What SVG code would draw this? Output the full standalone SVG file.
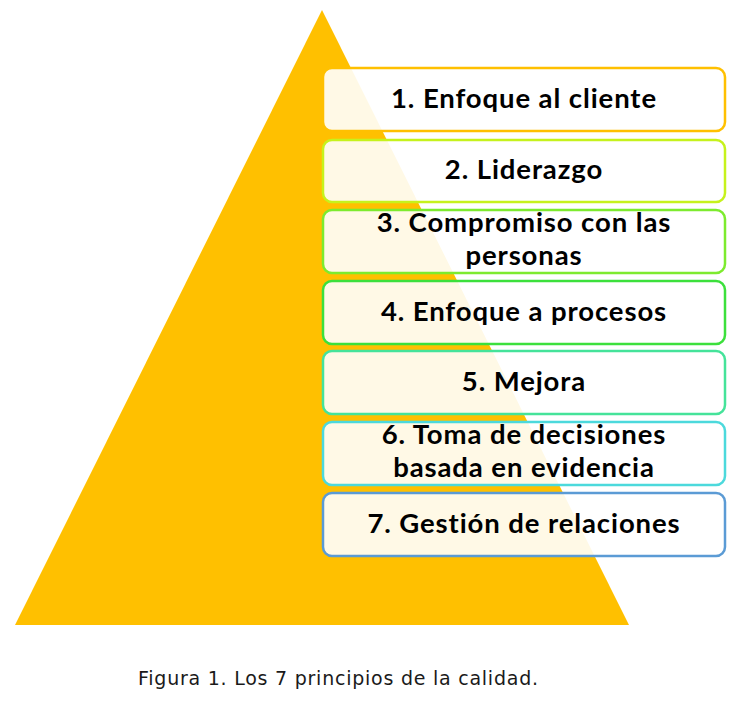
<svg xmlns="http://www.w3.org/2000/svg" width="740" height="705" viewBox="0 0 740 705">
<style>
.box{fill:#ffffff;fill-opacity:0.9;stroke-width:2.5}
.t{font-family:Lato,"Noto Sans",sans-serif;font-weight:bold;font-size:27.5px;letter-spacing:0.9px;fill:#000;text-anchor:middle}
.cap{font-family:"DejaVu Sans","Liberation Sans",sans-serif;font-size:19px;fill:#1a1a1a}
</style>
<rect width="740" height="705" fill="#ffffff"/>
<polygon id="pyramid" points="322,10 15,625 629,625" fill="#FFC000"/>
<g id="n1"><rect class="box" x="323" y="68" width="402" height="63" rx="9" stroke="#FFC000"/><text class="t" x="524" y="108">1. Enfoque al cliente</text></g>
<g id="n2"><rect class="box" x="323" y="140" width="402" height="62" rx="9" stroke="#C6F21C"/><text class="t" x="524" y="179">2. Liderazgo</text></g>
<g id="n3"><rect class="box" x="323" y="210" width="402" height="63" rx="9" stroke="#7DEB2E"/><text class="t" x="524" y="232">3. Compromiso con las<tspan x="524" y="265">personas</tspan></text></g>
<g id="n4"><rect class="box" x="323" y="281" width="402" height="63" rx="9" stroke="#3CE03C"/><text class="t" x="524" y="321">4. Enfoque a procesos</text></g>
<g id="n5"><rect class="box" x="323" y="351" width="402" height="63" rx="9" stroke="#45E39A"/><text class="t" x="524" y="391">5. Mejora</text></g>
<g id="n6"><rect class="box" x="323" y="422" width="402" height="63" rx="9" stroke="#4CD9DC"/><text class="t" x="524" y="444">6. Toma de decisiones<tspan x="524" y="477">basada en evidencia</tspan></text></g>
<g id="n7"><rect class="box" x="323" y="493" width="402" height="63" rx="9" stroke="#5B9BD5"/><text class="t" x="524" y="533">7. Gestión de relaciones</text></g>
<g id="connectors"></g>
<text class="cap" x="138" y="685" textLength="400" lengthAdjust="spacing">Figura 1. Los 7 principios de la calidad.</text>
</svg>
